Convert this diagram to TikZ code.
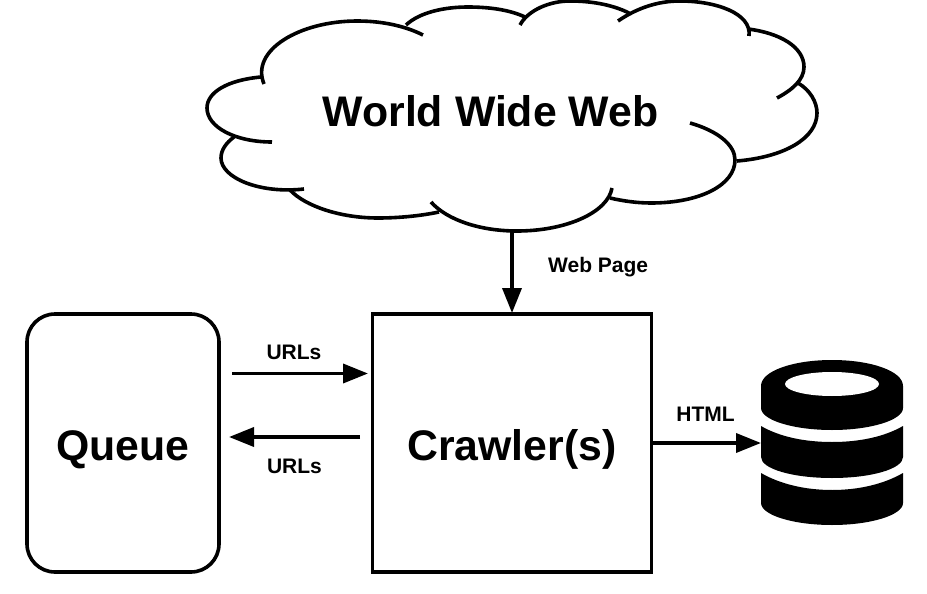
\documentclass[tikz,border=0pt]{standalone}
\usepackage{fontspec}
\setmainfont{Liberation Sans}
\usepackage{tikz}
\usetikzlibrary{arrows.meta, positioning}
\tikzset{
	box/.style={draw, line width=3.6pt, minimum width=#1, minimum height=258pt, inner sep=0pt, text height=36pt, text depth=2pt},
	bigtext/.style={font=\fontsize{42.8}{44}\selectfont\bfseries},
	smalltext/.style={font=\fontsize{21}{24}\selectfont\bfseries},
	outline/.style={line width=3.6pt},
	flow/.style={line width=3.6pt, -{Triangle[length=25pt,width=19pt]}}
}

\begin{document}
\begin{tikzpicture}[x=1pt, y=-1pt, on grid, node distance=389pt]
			\useasboundingbox (0,0) rectangle (927,594);
			% cloud, lobe by lobe
			\draw[outline] (264,84) .. controls (250,50) and (300,21) .. (357,21) .. controls (385,21) and (407,27) .. (423,35);
			\draw[outline] (406,25) .. controls (420,12) and (445,7) .. (468,7) .. controls (490,7) and (510,10) .. (525,17);
			\draw[outline] (520,25) .. controls (528,10) and (550,1) .. (570,1) .. controls (595,1) and (615,6) .. (629,13);
			\draw[outline] (618,21) .. controls (637,8) and (658,1) .. (680,1) .. controls (715,1) and (752,13) .. (749,36);
			\draw[outline] (748,29) .. controls (780,33) and (804,47) .. (804,67) .. controls (804,80) and (792,90) .. (777,98);
			\draw[outline] (798,83) .. controls (810,90) and (817,102) .. (817,113) .. controls (817,138) and (785,157) .. (737,161);
			\draw[outline] (690,123) .. controls (718,131) and (735,145) .. (735,160) .. controls (735,185) and (700,203) .. (651,203) .. controls (637,203) and (623,201) .. (610,198);
			\draw[outline] (612,188) .. controls (608,212) and (567,231) .. (517,231) .. controls (480,231) and (447,220) .. (431,202);
			\draw[outline] (439,212) .. controls (420,216) and (398,218) .. (378,218) .. controls (340,218) and (305,206) .. (290,190);
			\draw[outline] (304,189) .. controls (260,194) and (221,178) .. (221,158) .. controls (221,150) and (226,143) .. (234,137);
			\draw[outline] (272,142) .. controls (235,142) and (207,127) .. (207,108) .. controls (207,92) and (228,80) .. (261,77);
			\node[bigtext] (web) at (490.5,111) {World Wide Web};
			\node[box=192pt, rounded corners=28pt, bigtext] (queue) at (123,443) {Queue};
			\node[box=279pt, bigtext] (crawler) [right=of queue] {Crawler(s)};
			% database
			\fill (761,386) .. controls (761,371) and (793,360) .. (832,360) .. controls (871,360) and (903,371) .. (903,386) -- (903,408) .. controls (903,420) and (871,430) .. (832,430) .. controls (793,430) and (761,420) .. (761,408) -- cycle;
			\fill[white] (832,384) ellipse [x radius=47, y radius=12];
			\fill (761,426) .. controls (780,437) and (805,442) .. (832,442) .. controls (859,442) and (884,437) .. (903,426) -- (903,457) .. controls (903,469) and (871,478) .. (832,478) .. controls (793,478) and (761,469) .. (761,457) -- cycle;
			\fill (761,473) .. controls (780,484) and (805,490) .. (832,490) .. controls (859,490) and (884,484) .. (903,473) -- (903,503) .. controls (903,515) and (871,525) .. (832,525) .. controls (793,525) and (761,515) .. (761,503) -- cycle;
			\coordinate (cloudbottom) at (512,231);
			\coordinate (webin) at (512,313);
			\coordinate (queueout) at (232,373.5);
			\coordinate (crawlerin) at (368,373.5);
			\coordinate (crawlerout) at (360,437);
			\coordinate (queuein) at (229,437);
			\coordinate (htmlout) at (652,443);
			\coordinate (dbin) at (761,443);
			\path[flow]
			(cloudbottom) edge node[smalltext, right=31pt, yshift=5pt] (pagelabel) {Web Page} (webin)
			(queueout) edge node[smalltext, above=9pt, xshift=-6pt] (urlstop) {URLs} (crawlerin)
			(crawlerout) edge node[smalltext, below=17pt] (urlsbottom) {URLs} (queuein)
			(htmlout) edge node[smalltext, above=16pt, xshift=-1pt] (htmllabel) {HTML} (dbin)
			;
		\end{tikzpicture}
\end{document}
